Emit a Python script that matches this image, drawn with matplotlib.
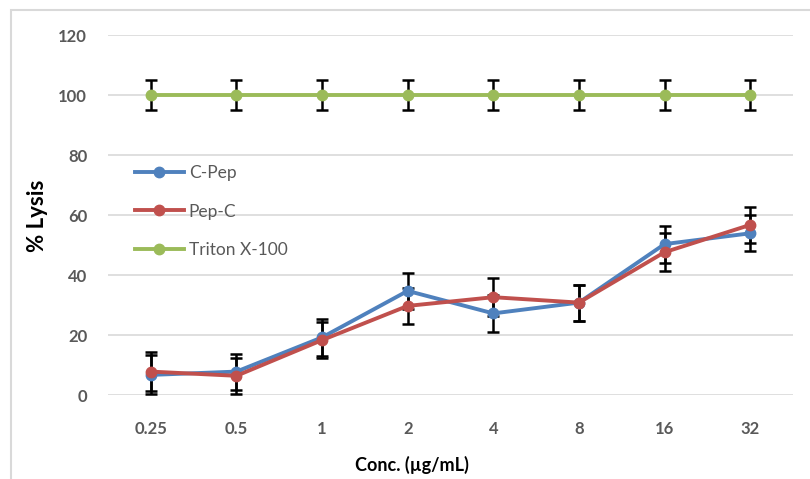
import matplotlib.pyplot as plt
from matplotlib.patches import Rectangle

# data
conc_labels = ["0.25", "0.5", "1", "2", "4", "8", "16", "32"]
c_pep = [6.7, 7.8, 19.2, 34.7, 27.2, 30.8, 50.3, 53.9]
pep_c = [7.8, 6.4, 18.3, 29.7, 32.6, 30.8, 47.6, 56.7]
triton = [100, 100, 100, 100, 100, 100, 100, 100]
c_pep_err = [6.5, 6.0, 6.2, 6.0, 6.1, 6.0, 6.2, 6.0]
pep_c_err = [6.5, 6.0, 6.0, 6.0, 6.3, 6.0, 6.3, 6.0]
triton_err = [5, 5, 5, 5, 5, 5, 5, 5]

series = [
    ("C-Pep", c_pep, c_pep_err, "#4F81BD"),
    ("Pep-C", pep_c, pep_c_err, "#C0504D"),
    ("Triton X-100", triton, triton_err, "#9BBB59"),
]

plt.rcParams['font.family'] = ['Lato', 'DejaVu Sans']

fig = plt.figure(figsize=(8.1, 4.79), dpi=100)
ax = fig.add_axes([108/810, 1 - 395/479, (793-108)/810, (395-35)/479])

x = list(range(len(conc_labels)))

# error bars below the lines / markers
for name, vals, err, col in series:
    ax.errorbar(x, vals, yerr=err, fmt='none', ecolor='black',
                elinewidth=1.8, capsize=4, capthick=1.8, zorder=2)

# draw triton first so the peptides lie above it, red on top
for name, vals, err, col in [series[2], series[0], series[1]]:
    ax.plot(x, vals, '-o', color=col, lw=2.8, markersize=7.5,
            label=name, zorder=3)

ax.set_xlim(-0.5, len(conc_labels) - 0.5)
ax.set_ylim(0, 120)
ax.set_yticks(range(0, 121, 20))
ax.set_xticks(x)
ax.set_xticklabels(conc_labels)

for s in ax.spines.values():
    s.set_visible(False)
ax.yaxis.grid(True, color='#d9d9d9', lw=1.2)
ax.set_axisbelow(True)
ax.tick_params(length=0, labelsize=12, labelcolor='#595959')
ax.tick_params(axis='y', pad=15)
ax.tick_params(axis='x', pad=19)
for lbl in ax.get_xticklabels() + ax.get_yticklabels():
    lbl.set_fontweight('bold')

handles, labels = ax.get_legend_handles_labels()
order = [1, 2, 0]
leg = ax.legend([handles[i] for i in order], [labels[i] for i in order],
                loc='upper left', bbox_to_anchor=(128/810, 1 - 158/479),
                bbox_transform=fig.transFigure, frameon=False,
                fontsize=12.5, labelspacing=1.3, handlelength=2.8,
                handletextpad=0.3, borderaxespad=0)
for t in leg.get_texts():
    t.set_color('#595959')

fig.text(38/810, 1 - 216/479, "% Lysis", rotation=90, ha='center',
         va='center', fontsize=16, fontweight='bold', color='black')
fig.text(412/810, 1 - 465/479, "Conc. (\u00b5g/mL)", ha='center',
         va='center', fontsize=13, fontweight='bold', color='black')

# light chart border like the spreadsheet frame
fig.patches.append(Rectangle((11/810, -0.1), 1.2, 1 - 10/479 + 0.1,
                             transform=fig.transFigure, fill=False,
                             edgecolor='#d9d9d9', lw=1.5))

fig.savefig("out.png", dpi=100)
